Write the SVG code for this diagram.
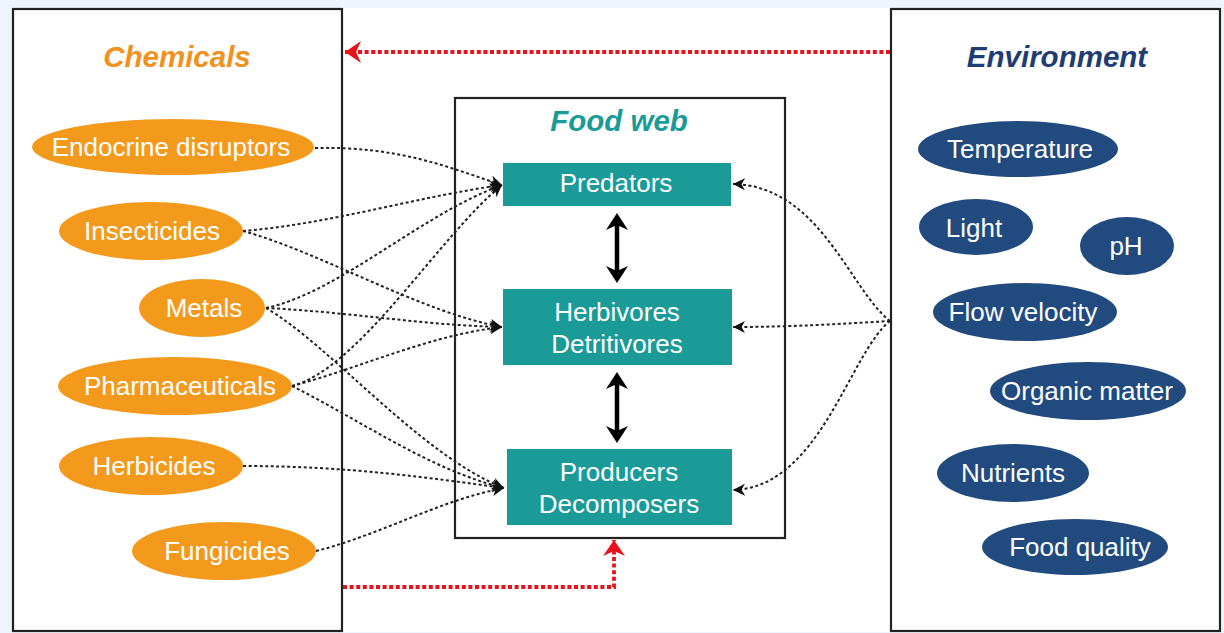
<svg xmlns="http://www.w3.org/2000/svg" width="1224" height="633" viewBox="0 0 1224 633">
<defs>
<style>
.box{fill:#ffffff;stroke:#222222;stroke-width:2.2}
.title{font-family:"Liberation Sans",Arial,sans-serif;font-size:29.5px;font-weight:bold;font-style:italic;text-anchor:middle}
.lbl{font-family:"Liberation Sans",Arial,sans-serif;font-size:26px;fill:#ffffff;text-anchor:middle}
.chem{fill:#f39a1d}
.env{fill:#214a7f}
.fw{fill:#1a9b97}
.dot{fill:none;stroke:#222222;stroke-width:2;stroke-dasharray:3 2.5}
.red{fill:none;stroke:#e8121b;stroke-width:3.8;stroke-dasharray:4 2.6}
.thick{fill:none;stroke:#000000;stroke-width:4.5}
</style>
<marker id="ah" markerUnits="userSpaceOnUse" markerWidth="14" markerHeight="12" refX="12" refY="6" orient="auto">
<path d="M0,0 L12,6 L0,12 L3.5,6 z" fill="#111111"/>
</marker>
<marker id="rh" markerUnits="userSpaceOnUse" markerWidth="18" markerHeight="22" refX="16" refY="11" orient="auto">
<path d="M0,0 L16,11 L0,22 L5,11 z" fill="#e8121b"/>
</marker>
<marker id="bh" markerUnits="userSpaceOnUse" markerWidth="18" markerHeight="22" refX="5" refY="11" orient="auto-start-reverse">
<path d="M0,0 L17,11 L0,22 L5,11 z" fill="#000000"/>
</marker>
</defs>
<rect x="0" y="0" width="1224" height="633" fill="#eef4fb"/>
<rect x="12" y="8" width="1210" height="624" fill="#ffffff"/>

<g id="chemicals-panel">
<rect class="box" x="13" y="9" width="329" height="622"/>
<text class="title" x="177" y="67" fill="#f0921e">Chemicals</text>
</g>
<g id="food-web-panel">
<rect class="box" x="455" y="98" width="330" height="440"/>
<text class="title" x="619" y="131" fill="#1a9b97">Food web</text>
</g>
<g id="environment-panel">
<rect class="box" x="891" y="9" width="329" height="622"/>
<text class="title" x="1057" y="67" fill="#1f3d74">Environment</text>
</g>

<g id="connectors">
<path class="dot" marker-end="url(#ah)" d="M315,148 C400,146 450,168 502,185"/>
<path class="dot" marker-end="url(#ah)" d="M243,231 C330,224 420,196 502,185"/>
<path class="dot" marker-end="url(#ah)" d="M243,231 C320,252 420,312 502,327"/>
<path class="dot" marker-end="url(#ah)" d="M266,308 C340,292 420,215 502,185"/>
<path class="dot" marker-end="url(#ah)" d="M266,308 C350,312 420,325 502,327"/>
<path class="dot" marker-end="url(#ah)" d="M266,308 C330,345 420,455 504,488"/>
<path class="dot" marker-end="url(#ah)" d="M292,386 C360,368 440,235 502,185"/>
<path class="dot" marker-end="url(#ah)" d="M292,386 C360,368 430,335 502,327"/>
<path class="dot" marker-end="url(#ah)" d="M292,386 C360,420 430,470 504,488"/>
<path class="dot" marker-end="url(#ah)" d="M243,466 C350,466 430,478 504,488"/>
<path class="dot" marker-end="url(#ah)" d="M316,551 C380,535 440,500 504,488"/>
<path class="dot" marker-end="url(#ah)" d="M890,321 C850,290 820,186 733,184"/>
<path class="dot" marker-end="url(#ah)" d="M890,321 C840,324 790,327 733,327"/>
<path class="dot" marker-end="url(#ah)" d="M890,321 C850,352 820,488 733,490"/>
<line class="thick" x1="617" y1="225" x2="617" y2="271" marker-start="url(#bh)" marker-end="url(#bh)"/>
<line class="thick" x1="617" y1="384" x2="617" y2="431" marker-start="url(#bh)" marker-end="url(#bh)"/>
<path class="red" marker-end="url(#rh)" d="M890,52 L345,52"/>
<path class="red" marker-end="url(#rh)" d="M343,587 L614,587 L614,540"/>
</g>

<g id="endocrine"><ellipse class="chem" cx="173" cy="147" rx="141" ry="28"/><text class="lbl" x="171" y="156">Endocrine disruptors</text></g>
<g id="insecticides"><ellipse class="chem" cx="151" cy="231" rx="92" ry="29"/><text class="lbl" x="152" y="240">Insecticides</text></g>
<g id="metals"><ellipse class="chem" cx="202" cy="308" rx="63" ry="29"/><text class="lbl" x="204" y="317">Metals</text></g>
<g id="pharmaceuticals"><ellipse class="chem" cx="175" cy="386" rx="117" ry="29"/><text class="lbl" x="180" y="395">Pharmaceuticals</text></g>
<g id="herbicides"><ellipse class="chem" cx="151" cy="466" rx="92" ry="29"/><text class="lbl" x="154" y="475">Herbicides</text></g>
<g id="fungicides"><ellipse class="chem" cx="224" cy="551" rx="92" ry="29"/><text class="lbl" x="227" y="560">Fungicides</text></g>

<g id="predators"><rect class="fw" x="503" y="163" width="228" height="43"/><text class="lbl" x="616" y="192">Predators</text></g>
<g id="herbivores"><rect class="fw" x="503" y="289" width="229" height="76"/><text class="lbl" x="617" y="321">Herbivores</text><text class="lbl" x="617" y="353">Detritivores</text></g>
<g id="producers"><rect class="fw" x="507" y="449" width="225" height="76"/><text class="lbl" x="619" y="481">Producers</text><text class="lbl" x="619" y="513">Decomposers</text></g>

<g id="temperature"><ellipse class="env" cx="1018" cy="149" rx="100" ry="28"/><text class="lbl" x="1020" y="158">Temperature</text></g>
<g id="light"><ellipse class="env" cx="976" cy="227" rx="57" ry="28"/><text class="lbl" x="974" y="237">Light</text></g>
<g id="ph"><ellipse class="env" cx="1127" cy="246" rx="47" ry="29"/><text class="lbl" x="1126" y="255">pH</text></g>
<g id="flow-velocity"><ellipse class="env" cx="1025" cy="312" rx="92" ry="29"/><text class="lbl" x="1023" y="321">Flow velocity</text></g>
<g id="organic-matter"><ellipse class="env" cx="1088" cy="391" rx="98" ry="29"/><text class="lbl" x="1087" y="400">Organic matter</text></g>
<g id="nutrients"><ellipse class="env" cx="1013" cy="473" rx="76" ry="29"/><text class="lbl" x="1013" y="482">Nutrients</text></g>
<g id="food-quality"><ellipse class="env" cx="1075" cy="547" rx="93" ry="28"/><text class="lbl" x="1080" y="556">Food quality</text></g>
</svg>
